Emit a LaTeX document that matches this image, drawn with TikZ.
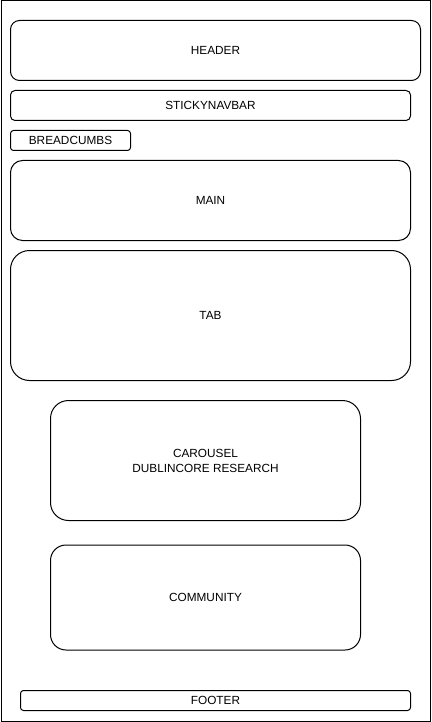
\documentclass[tikz,border=0pt]{standalone}
\usepackage{fontspec}
\setmainfont{Liberation Sans}
\begin{document}
\begin{tikzpicture}[x=1pt,y=-1pt,line width=1pt,
  box/.style={draw=black,fill=white,rounded corners=#1,inner sep=0pt,align=center,font=\fontsize{11.8}{15}\selectfont},
  box/.default=5pt]
\useasboundingbox (0,0) rectangle (431,722);
\node[draw=black,line width=1pt,minimum width=429pt,minimum height=720pt,inner sep=0pt,anchor=north west] (frame) at (0.5,0.5) {};
\node[box=9pt,minimum width=410pt,minimum height=60pt] (header) at (215.5,50.5) {HEADER};
\node[box=4.5pt,minimum width=400pt,minimum height=30pt] (nav) at (210.5,105.5) {STICKYNAVBAR};
\node[box=3pt,minimum width=120pt,minimum height=20pt] (bread) at (70.5,140.5) {BREADCUMBS};
\node[box=12pt,minimum width=400pt,minimum height=80pt] (main) at (210.5,200.5) {MAIN};
\node[box=19pt,minimum width=400pt,minimum height=130pt] (tab) at (210.5,315.5) {TAB};
\node[box=18pt,minimum width=310pt,minimum height=120pt] (carousel) at (205.5,460.5) {CAROUSEL\\DUBLINCORE RESEARCH};
\node[box=15.5pt,minimum width=310pt,minimum height=105pt] (community) at (205.5,597.5) {COMMUNITY};
\node[box=3pt,minimum width=390pt,minimum height=20pt] (footer) at (215.5,700.5) {FOOTER};
\end{tikzpicture}
\end{document}
